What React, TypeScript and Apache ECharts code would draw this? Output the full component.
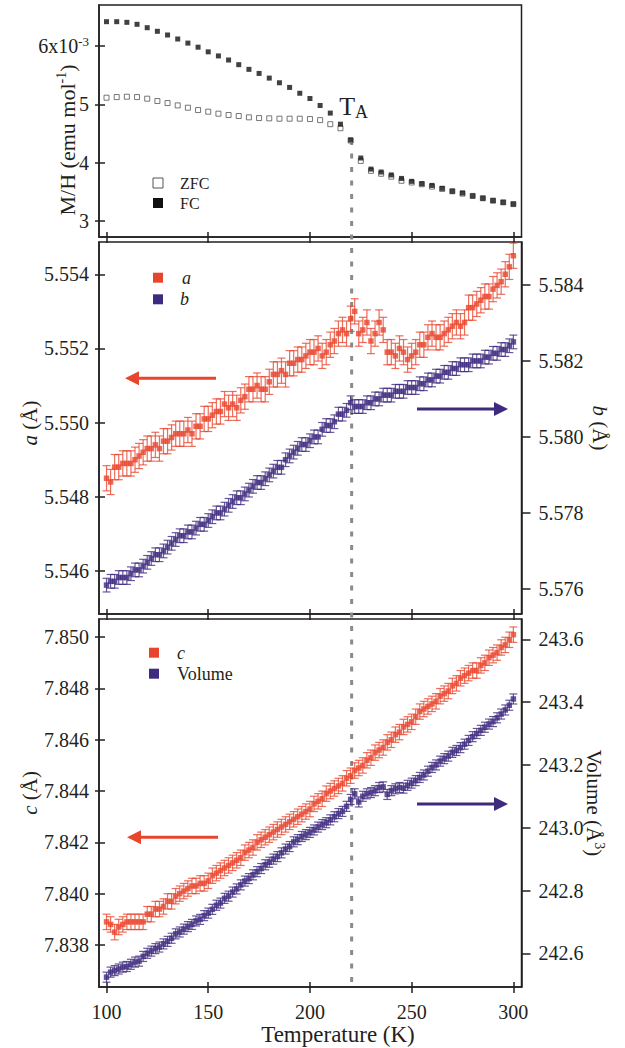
import React, { useEffect, useRef } from "react";
import * as echarts from "echarts";

// ---------- data ----------
// magnetisation (units of 1e-3 emu/mol)
const T_MAG = [100, 105, 110, 115, 120, 125, 130, 135, 140, 145, 150, 155, 160, 165, 170, 175, 180, 185, 190, 195, 200, 205, 210, 215, 220, 225, 230, 235, 240, 245, 250, 255, 260, 265, 270, 275, 280, 285, 290, 295, 300];
const FC = [6.417, 6.417, 6.406, 6.372, 6.314, 6.252, 6.189, 6.12, 6.05, 5.98, 5.9, 5.83, 5.76, 5.68, 5.6, 5.53, 5.45, 5.37, 5.29, 5.19, 5.1, 4.98, 4.85, 4.66, 4.39, 4.08, 3.89, 3.84, 3.79, 3.73, 3.68, 3.64, 3.61, 3.56, 3.51, 3.48, 3.43, 3.39, 3.35, 3.32, 3.29];
const ZFC = [5.114, 5.125, 5.131, 5.125, 5.097, 5.057, 5.022, 4.982, 4.942, 4.902, 4.874, 4.84, 4.817, 4.8, 4.777, 4.765, 4.76, 4.754, 4.754, 4.754, 4.748, 4.73, 4.66, 4.59, 4.38, 4.03, 3.86, 3.81, 3.76, 3.69, 3.66, 3.63, 3.59, 3.55, 3.51, 3.47, 3.43, 3.39, 3.35, 3.32, 3.29];

// lattice parameters
const T_LAT = [100, 102, 104, 106, 108, 110, 112, 114, 116, 118, 120, 122, 124, 126, 128, 130, 132, 134, 136, 138, 140, 142, 144, 146, 148, 150, 152, 154, 156, 158, 160, 162, 164, 166, 168, 170, 172, 174, 176, 178, 180, 182, 184, 186, 188, 190, 192, 194, 196, 198, 200, 202, 204, 206, 208, 210, 212, 214, 216, 218, 220, 222, 224, 226, 228, 230, 232, 234, 236, 238, 240, 242, 244, 246, 248, 250, 252, 254, 256, 258, 260, 262, 264, 266, 268, 270, 272, 274, 276, 278, 280, 282, 284, 286, 288, 290, 292, 294, 296, 298, 300];
const A_VAL = [
  5.5485, 5.5484, 5.5488, 5.5488, 5.5489, 5.5489, 5.5489, 5.549, 5.5491, 5.5492,
  5.5493, 5.5493, 5.5494, 5.5493, 5.5495, 5.5495, 5.5496, 5.5497, 5.5497, 5.5497,
  5.5498, 5.5497, 5.5499, 5.5499, 5.5501, 5.5501, 5.5502, 5.5503, 5.5503, 5.5505,
  5.5504, 5.5505, 5.5504, 5.5506, 5.5507, 5.5509, 5.5509, 5.551, 5.5509, 5.5509,
  5.5511, 5.5513, 5.5513, 5.5514, 5.5513, 5.5516, 5.5516, 5.5517, 5.5517, 5.5518,
  5.5519,
  5.5519, 5.552, 5.5518, 5.5519, 5.5521, 5.5522, 5.5524, 5.5525, 5.5524, 5.5528,
  5.553, 5.5524, 5.5525, 5.5527, 5.5522, 5.5524, 5.5527, 5.5525, 5.5519, 5.5519,
  5.5518, 5.552, 5.5519, 5.5517, 5.5518, 5.5519, 5.5521, 5.5521, 5.5523, 5.5524,
  5.5523, 5.5523, 5.5524, 5.5525, 5.5526, 5.5527, 5.5526, 5.5527, 5.5531, 5.5531,
  5.5532, 5.5533, 5.5534, 5.5534, 5.5536, 5.5537, 5.5538, 5.554, 5.5542, 5.5545,
];
const B_VAL = [
  5.5761, 5.5762, 5.5762, 5.5763, 5.5763, 5.5763, 5.5764, 5.5765, 5.5765, 5.5766,
  5.5767, 5.5768, 5.5769, 5.5769, 5.577, 5.5771, 5.5772, 5.5773, 5.5774, 5.5774,
  5.5775, 5.5775, 5.5776, 5.5777, 5.5777, 5.5778, 5.5779, 5.578, 5.578, 5.5781,
  5.5782, 5.5783, 5.5784, 5.5784, 5.5785, 5.5786, 5.5787, 5.5788, 5.5788, 5.5789,
  5.579, 5.5791, 5.5792, 5.5792, 5.5794, 5.5795, 5.5796, 5.5797, 5.5798, 5.5798,
  5.5799,
  5.58, 5.58, 5.5802, 5.5803, 5.5803, 5.5804, 5.5806, 5.5806, 5.5807, 5.5809,
  5.5808, 5.5808, 5.5808, 5.5809, 5.5809, 5.581, 5.581, 5.5811, 5.5811, 5.5811,
  5.5812, 5.5812, 5.5812, 5.5813, 5.5813, 5.5813, 5.5814, 5.5814, 5.5815, 5.5815,
  5.5816, 5.5816, 5.5817, 5.5817, 5.5818, 5.5818, 5.5819, 5.5819, 5.5819, 5.582,
  5.582, 5.582, 5.5821, 5.5821, 5.5822, 5.5822, 5.5823, 5.5823, 5.5824, 5.5825,
];
const C_VAL = [
  7.8389, 7.8388, 7.8385, 7.8387, 7.8388, 7.8389, 7.8389, 7.8389, 7.8389, 7.8389,
  7.8392, 7.8392, 7.8394, 7.8394, 7.8395, 7.8397, 7.8397, 7.8399, 7.84, 7.8401,
  7.8402, 7.8403, 7.8403, 7.8404, 7.8404, 7.8405, 7.8407, 7.8408, 7.8409, 7.841,
  7.8411, 7.8412, 7.8413, 7.8414, 7.8416, 7.8417, 7.8418, 7.842, 7.8421, 7.8422,
  7.8423, 7.8424, 7.8425, 7.8426, 7.8427, 7.8428, 7.8429, 7.843, 7.8431, 7.8432,
  7.8433,
  7.8435, 7.8436, 7.8437, 7.8439, 7.844, 7.8441, 7.8442, 7.8443, 7.8445, 7.8446,
  7.8448, 7.8449, 7.845, 7.8452, 7.8453, 7.8455, 7.8456, 7.8457, 7.8459, 7.846,
  7.8462, 7.8463, 7.8465, 7.8466, 7.8467, 7.8469, 7.8471, 7.8472, 7.8473, 7.8474,
  7.8475, 7.8477, 7.8478, 7.8479, 7.8481, 7.8482, 7.8484, 7.8485, 7.8486, 7.8487,
  7.8487, 7.8489, 7.849, 7.8492, 7.8493, 7.8494, 7.8496, 7.8497, 7.8499, 7.8501,
];
const V_VAL = [
  242.524, 242.54, 242.545, 242.55, 242.556, 242.558, 242.565, 242.572, 242.575, 242.59,
  242.6, 242.607, 242.615, 242.62, 242.63, 242.638, 242.648, 242.662, 242.668, 242.677,
  242.685, 242.692, 242.703, 242.708, 242.72, 242.728, 242.74, 242.753, 242.76, 242.775,
  242.782, 242.795, 242.805, 242.818, 242.83, 242.838, 242.85, 242.86, 242.87, 242.882,
  242.89, 242.9, 242.908, 242.92, 242.932, 242.94, 242.955, 242.962, 242.972, 242.978,
  242.985,
  242.993, 243.002, 243.01, 243.016, 243.025, 243.035, 243.045, 243.052, 243.068, 243.09,
  243.108, 243.082, 243.1, 243.108, 243.112, 243.118, 243.128, 243.13, 243.106, 243.118,
  243.124, 243.128, 243.126, 243.135, 243.142, 243.15, 243.16, 243.168, 243.18, 243.192,
  243.2, 243.212, 243.22, 243.228, 243.24, 243.246, 243.255, 243.266, 243.278, 243.29,
  243.3, 243.31, 243.32, 243.33, 243.338, 243.35, 243.362, 243.375, 243.39, 243.41,
];
const A_ERR = 0.00034;
const B_ERR = 0.00018;
const C_ERR = 0.0003;
const V_ERR = 0.016;

const T_A = 220.5;

// ticks
const X_TICKS = [100, 150, 200, 250, 300];
const MH_TICKS = [3, 4, 5, 6];
const A_TICKS = [5.546, 5.548, 5.55, 5.552, 5.554];
const B_TICKS = [5.576, 5.578, 5.58, 5.582, 5.584];
const C_TICKS = [7.838, 7.84, 7.842, 7.844, 7.846, 7.848, 7.85];
const V_TICKS = [242.6, 242.8, 243.0, 243.2, 243.4, 243.6];

// ---------- style ----------
const FONT = "Liberation Serif, Times New Roman, serif";
const AX = "#231f20";
const RED = "#e8452d";
const PURPLE = "#3e2a7e";
const RED_BAR = "rgba(232,69,45,0.78)";
const PURPLE_BAR = "rgba(62,42,126,0.78)";

const X_MIN = 96.3;
const X_MAX = 304;

const LABEL_RICH = {
  n: { fontSize: 20, fontFamily: FONT, color: AX, lineHeight: 22 },
  s: { fontSize: 13, fontFamily: FONT, color: AX, lineHeight: 4, verticalAlign: "top" },
};
const XLABEL_RICH = {
  n: { fontSize: 20, fontFamily: FONT, color: AX, lineHeight: 19 },
};

function xPair(gi: number, showLabel: boolean) {
  const base = {
    type: "value",
    gridIndex: gi,
    min: X_MIN,
    max: X_MAX,
    position: "bottom",
    splitLine: { show: false },
  };
  return [
    {
      ...base,
      axisLine: { show: true, lineStyle: { color: AX, width: 1.5 } },
      axisTick: { show: true, inside: false, length: 6, customValues: X_TICKS, lineStyle: { color: AX, width: 1.5 } },
      axisLabel: {
        show: showLabel,
        customValues: X_TICKS,
        margin: 15,
        formatter: (v: number) => "{n|" + Math.round(v) + "}",
        rich: XLABEL_RICH,
        fontSize: 20,
        fontFamily: FONT,
        color: AX,
      },
    },
    {
      ...base,
      axisLine: { show: false },
      axisTick: { show: true, inside: true, length: 5, customValues: X_TICKS, lineStyle: { color: AX, width: 1.5 } },
      axisLabel: { show: false },
    },
  ];
}

function yAxis(gi: number, pos: string, min: number, max: number, ticks: number[], fmt: any, inside: boolean) {
  return {
    type: "value",
    gridIndex: gi,
    position: pos,
    min,
    max,
    splitLine: { show: false },
    axisLine: { show: !inside, lineStyle: { color: AX, width: 1.5 } },
    axisTick: {
      show: true,
      inside,
      length: inside ? 6 : pos === "right" ? 9 : 4,
      customValues: ticks,
      lineStyle: { color: AX, width: 1.5 },
    },
    axisLabel: {
      show: !inside,
      customValues: ticks,
      formatter: fmt,
      margin: pos === "right" ? 17 : 10,
      fontSize: 20,
      fontFamily: FONT,
      color: AX,
      rich: LABEL_RICH,
    },
  };
}

function errSeries(name: string, xi: number, yi: number, xs: number[], ys: number[], err: number, color: string) {
  return {
    type: "custom",
    name,
    xAxisIndex: xi,
    yAxisIndex: yi,
    silent: true,
    data: xs.map((x, i) => [x, ys[i]]),
    encode: { x: 0, y: 1 },
    renderItem: (params: any, api: any) => {
      const x = api.value(0);
      const y = api.value(1);
      const hi = api.coord([x, y + err]);
      const lo = api.coord([x, y - err]);
      const cap = 4;
      const st = { stroke: color, lineWidth: 1.2 };
      return {
        type: "group",
        children: [
          { type: "line", shape: { x1: hi[0], y1: hi[1], x2: lo[0], y2: lo[1] }, style: st },
          { type: "line", shape: { x1: hi[0] - cap, y1: hi[1], x2: hi[0] + cap, y2: hi[1] }, style: st },
          { type: "line", shape: { x1: lo[0] - cap, y1: lo[1], x2: lo[0] + cap, y2: lo[1] }, style: st },
        ],
      };
    },
  };
}

function pointSeries(name: string, xi: number, yi: number, xs: number[], ys: number[], style: any, size = 5) {
  return {
    type: "scatter",
    name,
    xAxisIndex: xi,
    yAxisIndex: yi,
    symbol: "rect",
    symbolSize: size,
    itemStyle: style,
    data: xs.map((x, i) => [x, ys[i]]),
  };
}

function buildOption() {
  const fix3 = (v: number) => "{n|" + v.toFixed(3) + "}";
  const fix1 = (v: number) => "{n|" + v.toFixed(1) + "}";
  const mhFmt = (v: number) => (Math.abs(v - 6) < 1e-9 ? "{n|6x10}{s|-3}" : "{n|" + Math.round(v) + "}");
  return {
    animation: false,
    backgroundColor: "#ffffff",
    textStyle: { fontFamily: FONT },
    grid: [
      { left: 99, right: 103.5, top: 5, height: 232, show: true, borderColor: AX, borderWidth: 1.5, backgroundColor: "transparent" },
      { left: 99, right: 103.5, top: 242, height: 372, show: true, borderColor: AX, borderWidth: 1.5, backgroundColor: "transparent" },
      { left: 99, right: 103.5, top: 619, height: 368, show: true, borderColor: AX, borderWidth: 1.5, backgroundColor: "transparent" },
    ],
    xAxis: [...xPair(0, false), ...xPair(1, false), ...xPair(2, true)],
    yAxis: [
      yAxis(0, "left", 2.726, 6.703, MH_TICKS, mhFmt, false),
      yAxis(0, "left", 2.726, 6.703, MH_TICKS, mhFmt, true),
      yAxis(1, "left", 5.54484, 5.55487, A_TICKS, fix3, false),
      yAxis(1, "left", 5.54484, 5.55487, A_TICKS, fix3, true),
      yAxis(1, "right", 5.57534, 5.58513, B_TICKS, fix3, false),
      yAxis(2, "left", 7.83636, 7.85071, C_TICKS, fix3, false),
      yAxis(2, "left", 7.83636, 7.85071, C_TICKS, fix3, true),
      yAxis(2, "right", 242.4927, 243.6647, V_TICKS, fix1, false),
    ],
    series: [
      pointSeries("ZFC", 0, 0, T_MAG, ZFC, { color: "#ffffff", borderColor: "#555555", borderWidth: 1 }, 5),
      pointSeries("FC", 0, 0, T_MAG, FC, { color: "#111111" }, 5),
      errSeries("a err", 2, 2, T_LAT, A_VAL, A_ERR, RED_BAR),
      pointSeries("a", 2, 2, T_LAT, A_VAL, { color: RED }, 5.5),
      errSeries("b err", 2, 4, T_LAT, B_VAL, B_ERR, PURPLE_BAR),
      pointSeries("b", 2, 4, T_LAT, B_VAL, { color: PURPLE }, 5.5),
      errSeries("c err", 4, 5, T_LAT, C_VAL, C_ERR, RED_BAR),
      pointSeries("c", 4, 5, T_LAT, C_VAL, { color: RED }, 5.5),
      errSeries("Volume err", 4, 7, T_LAT, V_VAL, V_ERR, PURPLE_BAR),
      pointSeries("Volume", 4, 7, T_LAT, V_VAL, { color: PURPLE }, 5.5),
    ],
  };
}

function arrow(x1: number, x2: number, y: number, color: string) {
  // x1: tail, x2: tip
  const dir = x2 > x1 ? 1 : -1;
  const base = x2 - dir * 14;
  return [
    { type: "line", shape: { x1, y1: y, x2: base, y2: y }, style: { stroke: color, lineWidth: 3 } },
    { type: "polygon", shape: { points: [[x2, y], [base, y - 7], [base, y + 7]] }, style: { fill: color } },
  ];
}

function titleText(x: number, y: number, rot: number, text: string, size: number, lh = size + 4) {
  return {
    type: "text",
    x,
    y,
    rotation: rot,
    style: {
      text,
      align: "center",
      verticalAlign: "middle",
      rich: {
        n: { fontSize: size, lineHeight: lh, fontFamily: FONT, fill: AX },
        i: { fontSize: size, lineHeight: lh, fontFamily: FONT, fontStyle: "italic", fill: AX },
        s: { fontSize: 14, lineHeight: lh - 18, verticalAlign: "top", fontFamily: FONT, fill: AX },
      },
    },
  };
}

function legendItem(cx: number, cy: number, size: number, rectStyle: any, text: string, tx: number, fontSize: number, italic: boolean) {
  return [
    { type: "rect", shape: { x: cx - size / 2, y: cy - size / 2, width: size, height: size }, style: rectStyle },
    {
      type: "text",
      x: tx,
      y: cy,
      style: {
        text: "{l|" + text + "}",
        align: "left",
        verticalAlign: "middle",
        rich: { l: { fontSize, lineHeight: fontSize, fontFamily: FONT, fontStyle: italic ? "italic" : "normal", fill: AX } },
      },
    },
  ];
}

export default function App() {
  const ref = useRef<HTMLDivElement>(null);
  useEffect(() => {
    const el = ref.current as HTMLDivElement;
    const chart = echarts.init(el, undefined, { renderer: "svg" });
    chart.setOption(buildOption() as any);

    const iTA = T_MAG.indexOf(220);
    const pFC = chart.convertToPixel({ xAxisIndex: 0, yAxisIndex: 0 } as any, [T_MAG[iTA], FC[iTA]]) as number[];
    const pTop = chart.convertToPixel({ xAxisIndex: 0, yAxisIndex: 0 } as any, [T_A, FC[iTA]]) as number[];
    const pBot = chart.convertToPixel({ xAxisIndex: 4, yAxisIndex: 5 } as any, [T_A, 7.83636]) as number[];

    const graphic: any[] = [
      {
        type: "line",
        z: 1,
        shape: { x1: pTop[0], y1: pTop[1], x2: pBot[0], y2: pBot[1] - 4 },
        style: { stroke: "#8a8a8a", lineWidth: 3, lineDash: [5, 8.5] },
      },
      {
        type: "text",
        x: pFC[0] - 11.5,
        y: pFC[1] - 48.5,
        style: {
          text: "{t|T}{s|A}",
          align: "left",
          verticalAlign: "top",
          rich: {
            t: { fontSize: 26, lineHeight: 30, fontFamily: FONT, fill: AX },
            s: { fontSize: 18, lineHeight: 7, verticalAlign: "bottom", fontFamily: FONT, fill: AX },
          },
        },
      },
      ...arrow(216, 125, 378.3, RED),
      ...arrow(417, 508, 409, PURPLE),
      ...arrow(218, 127, 837.3, RED),
      ...arrow(417, 508, 804, PURPLE),
      ...legendItem(158, 183, 10, { fill: "#fff", stroke: "#555", lineWidth: 1 }, "ZFC", 180, 16, false),
      ...legendItem(158, 203, 10, { fill: "#111" }, "FC", 180, 16, false),
      ...legendItem(158, 277.7, 10, { fill: RED }, "a", 182, 18, true),
      ...legendItem(158, 299.3, 10, { fill: PURPLE }, "b", 180, 18, true),
      ...legendItem(154, 652.7, 10, { fill: RED }, "c", 177, 18, true),
      ...legendItem(154, 673.7, 10, { fill: PURPLE }, "Volume", 177, 18, false),
      titleText(67, 140, Math.PI / 2, "{n|M/H (emu mol}{s|-1}{n|)}", 22, 26),
      titleText(30, 423, Math.PI / 2, "{i|a}{n| (Å)}", 21, 25),
      titleText(600, 428, -Math.PI / 2, "{i|b}{n| (Å)}", 21, 25),
      titleText(30, 793, Math.PI / 2, "{i|c}{n| (Å)}", 21, 25),
      titleText(594, 803, -Math.PI / 2, "{n|Volume (Å}{s|3}{n|)}", 21, 25),
      titleText(338, 1034, 0, "{n|Temperature (K)}", 23, 21),
    ];
    chart.setOption({ graphic } as any);

    return () => {
      chart.dispose();
    };
  }, []);
  return (
    <div
      ref={ref}
      style={{ position: "fixed", left: 0, top: 0, width: 625, height: 1048, background: "#fff" }}
    />
  );
}
